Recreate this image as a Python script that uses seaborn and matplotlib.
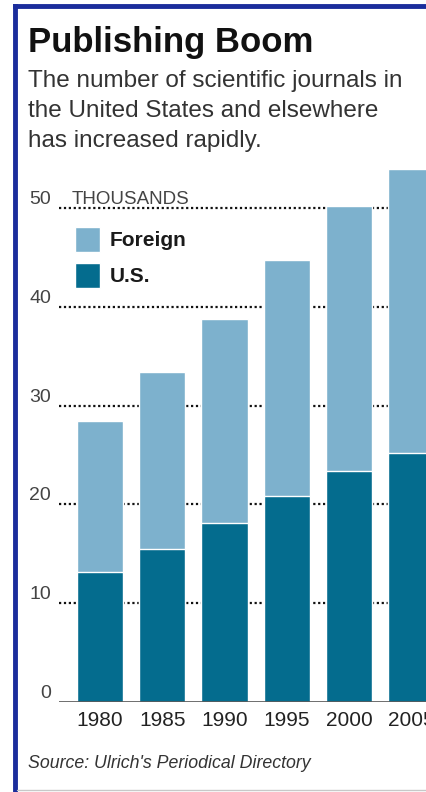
import numpy as np
import pandas as pd
import matplotlib
matplotlib.use('Agg')
import matplotlib.pyplot as plt
import seaborn as sns
from matplotlib.lines import Line2D
from matplotlib.patches import Patch

# Data (thousands of scientific journals)
years = ['1980', '1985', '1990', '1995', '2000', '2005']
us = [13.1, 15.5, 18.1, 20.8, 23.4, 25.2]
foreign = [15.3, 17.9, 20.7, 24.0, 26.8, 28.8]
yticks = [0, 10, 20, 30, 40, 50]

light_blue = '#7db1cd'
dark_blue = '#046c8e'
text_gray = '#333333'

sns.set_theme(style='white')
plt.rcParams['font.family'] = ['Liberation Sans', 'DejaVu Sans']

df = pd.DataFrame({'year': years, 'us': us, 'foreign': foreign})
df['total'] = df['us'] + df['foreign']

W, H = 426, 792
fig = plt.figure(figsize=(W / 100, H / 100), dpi=100)
fig.patch.set_facecolor('white')

# axes: left edge at x=59px, baseline at y=702px, clipped on the right
x_left_px, base_px, px_per_unit = 59.3, 701.7, 9.87
ymax = 56
ax_w_px = W - x_left_px
ax_h_px = ymax * px_per_unit
ax = fig.add_axes([x_left_px / W, (H - base_px) / H, ax_w_px / W, ax_h_px / H])
ax.set_facecolor('none')

# dotted gridlines behind bars
for t in yticks[1:]:
    ax.axhline(t, color='#111111', linestyle=(0, (1, 1.2)), linewidth=1.6, zorder=0)
ax.axhline(0, color='#555555', linewidth=1.2, zorder=3)

sns.barplot(data=df, x='year', y='total', color=light_blue, width=0.74,
            saturation=1, ax=ax, zorder=2)
sns.barplot(data=df, x='year', y='us', color=dark_blue, width=0.74,
            saturation=1, ax=ax, zorder=2)

ax.set_xlim(-0.65, (W - 100) / 62.3)
ax.set_ylim(0, ymax)
for s in ax.spines.values():
    s.set_visible(False)
ax.set_xlabel('')
ax.set_ylabel('')
ax.set_yticks(yticks)
ax.set_yticklabels([str(t) for t in yticks], fontsize=14, color='#444444')
for lab in ax.get_yticklabels():
    lab.set_verticalalignment('bottom')
ax.tick_params(axis='y', length=0, pad=6)
ax.tick_params(axis='x', length=0, pad=7, labelsize=15, labelcolor='#222222')

ax.text(-0.45, 50, 'THOUSANDS', fontsize=13.5, color='#444444', va='bottom', ha='left')

handles = [Patch(facecolor=light_blue, label='Foreign'),
           Patch(facecolor=dark_blue, label='U.S.')]
leg = ax.legend(handles=handles, loc='upper left',
                bbox_to_anchor=((75 - x_left_px) / ax_w_px, (base_px - 227) / ax_h_px),
                frameon=False, prop={'weight': 'bold', 'size': 15}, handlelength=1.2,
                handleheight=1.45, handletextpad=0.45, labelspacing=0.55,
                borderaxespad=0, borderpad=0)
for t in leg.get_texts():
    t.set_color('#1a1a1a')

# titles
fig.text(28 / W, 1 - 52 / H, 'Publishing Boom', fontsize=25, fontweight='bold',
         color='#111111', va='baseline', ha='left')
subtitle = ['The number of scientific journals in',
            'the United States and elsewhere',
            'has increased rapidly.']
for i, line in enumerate(subtitle):
    fig.text(28 / W, 1 - (87 + 30 * i) / H, line, fontsize=17.5, color=text_gray,
             va='baseline', ha='left')

fig.text(28 / W, 1 - 768 / H, "Source: Ulrich's Periodical Directory", fontsize=12.8,
         style='italic', color=text_gray, va='baseline', ha='left')

# frame: blue on left and top, thin gray at bottom
fig.add_artist(Line2D([15 / W, 15 / W], [0, 1 - 6 / H], transform=fig.transFigure,
                      color='#1b2d9c', linewidth=3.5, solid_capstyle='projecting'))
fig.add_artist(Line2D([15 / W, 1], [1 - 6 / H, 1 - 6 / H], transform=fig.transFigure,
                      color='#1b2d9c', linewidth=3.5, solid_capstyle='projecting'))
fig.add_artist(Line2D([17 / W, 1], [1 - 790 / H, 1 - 790 / H], transform=fig.transFigure,
                      color='#c8c8c8', linewidth=1))

fig.savefig('out.png', dpi=100)
